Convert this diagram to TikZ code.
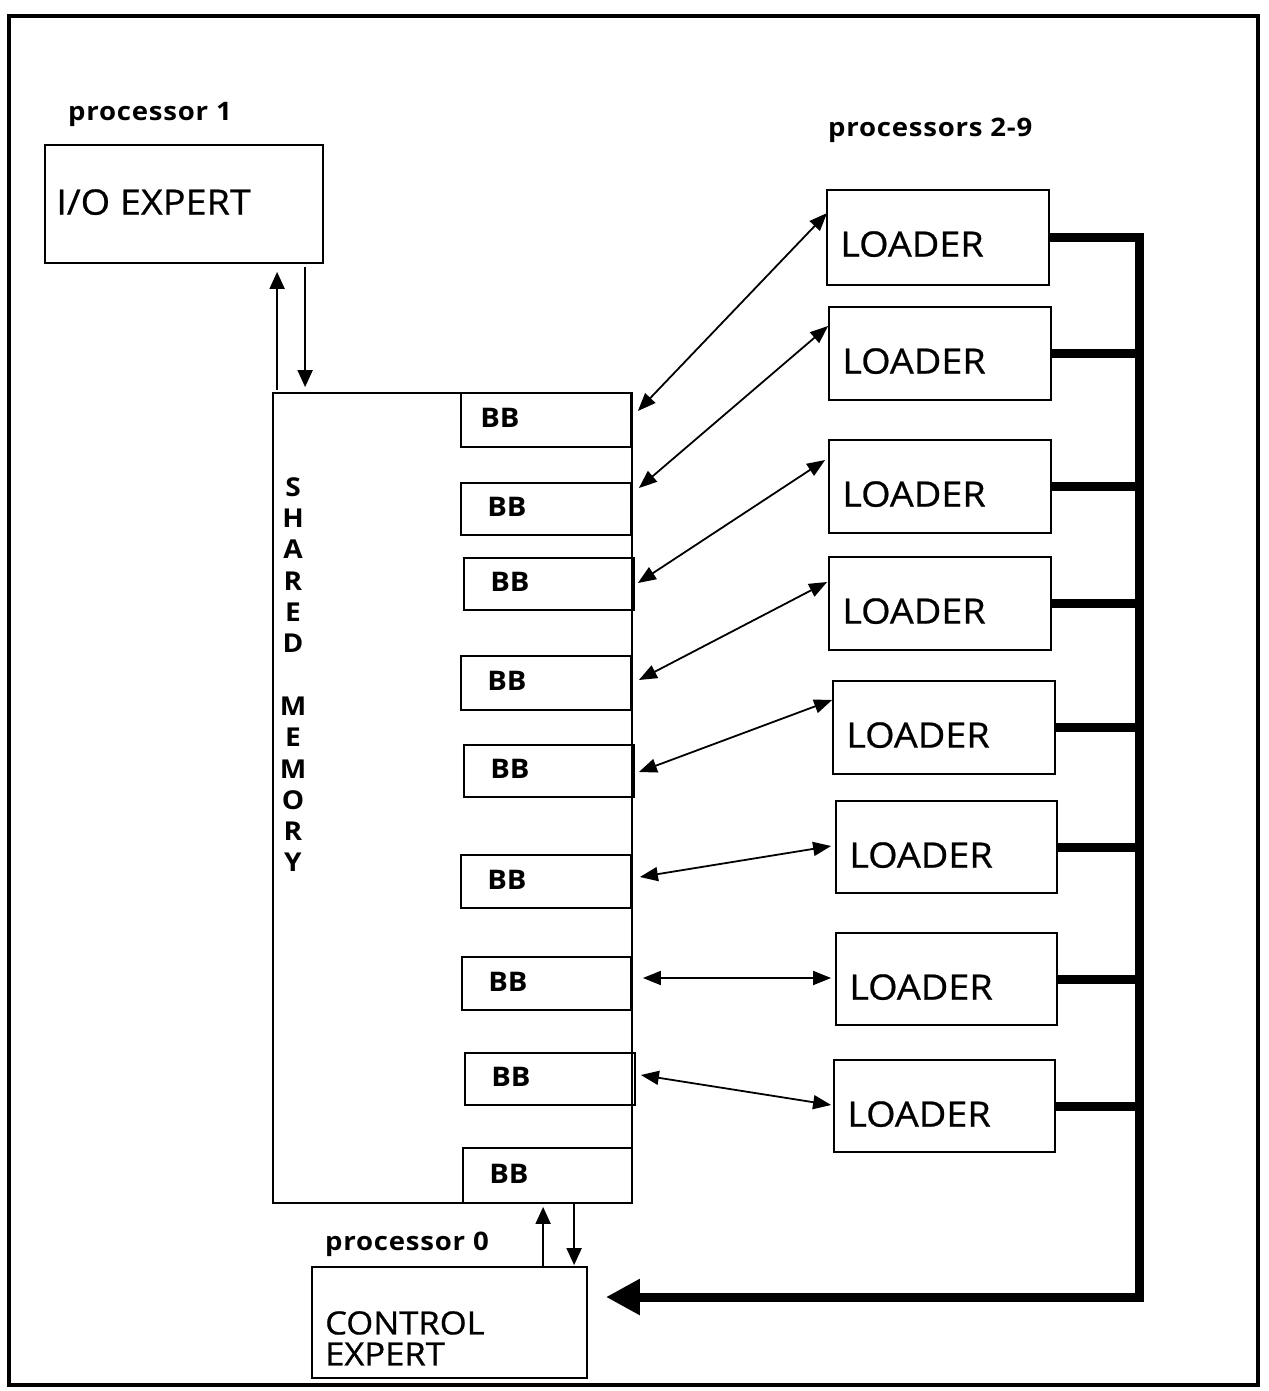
\documentclass[tikz,border=0pt]{standalone}
\usepackage{fontspec}
\setmainfont{Open Sans}[FakeStretch=1.08]
\newfontfamily\heavysans{Open Sans}[FakeStretch=1.08,FakeBold=0.7]
\newfontfamily\labsans{Open Sans}[FakeStretch=1.08,LetterSpace=3]
\usetikzlibrary{arrows.meta,calc}
\newcommand\mkbox[5]{\node[box,minimum width=#4pt,minimum height=#5pt] (#1) at (#2,#3) {};}
\begin{document}
\begin{tikzpicture}[x=1pt,y=-1pt,
  box/.style={draw,line width=1.8pt,inner sep=0pt,rectangle},
  lbl/.style={inner sep=0pt,anchor=west,font=\heavysans\fontsize{35}{40}\selectfont},
  small/.style={inner sep=0pt,anchor=base west,font=\labsans\fontsize{25.5}{30}\selectfont\bfseries},
  bbtxt/.style={inner sep=0pt,anchor=west,font=\fontsize{27}{30}\selectfont\bfseries},
  darr/.style={line width=1.8pt,{Triangle[length=18pt,width=14pt]}-{Triangle[length=18pt,width=14pt]}},
  arr/.style={line width=1.8pt,-{Triangle[length=17pt,width=15pt]}},
  bus/.style={line width=9pt},
]
\useasboundingbox (0,0) rectangle (1268,1391);
% frame
\draw[line width=4pt] (9,16) rectangle (1258,1385);

% main boxes
\mkbox{io}{184}{204}{278}{118}
\mkbox{shm}{452.5}{798}{359}{810}
\mkbox{ctrl}{449.5}{1322.5}{275}{111}

% BB boxes
\mkbox{bb1}{546}{420}{170}{54}
\mkbox{bb2}{546}{509}{170}{52}
\mkbox{bb3}{549}{584}{170}{52}
\mkbox{bb4}{546}{683}{170}{54}
\mkbox{bb5}{549}{771}{170}{52}
\mkbox{bb6}{546}{881.5}{170}{53}
\mkbox{bb7}{546.5}{983.5}{169}{53}
\mkbox{bb8}{550}{1079}{170}{52}
\mkbox{bb9}{547.5}{1175.5}{169}{55}

% loader boxes
\mkbox{L1}{938}{237.5}{222}{95}
\mkbox{L2}{940}{353.5}{222}{93}
\mkbox{L3}{940}{486.5}{222}{93}
\mkbox{L4}{940}{603.5}{222}{93}
\mkbox{L5}{944}{727.5}{222}{93}
\mkbox{L6}{946.5}{847}{221}{92}
\mkbox{L7}{946.5}{979}{221}{92}
\mkbox{L8}{944.5}{1106}{221}{92}

% texts
\node[small] (p1) at (68,121) {processor 1};
\node[small] (p29) at (828,137) {processors 2-9};
\node[small] (p0) at (325,1250) {processor 0};
\node[lbl] (iot) at ($(io.north west)+(12,58)$) {I/O EXPERT};
\node[inner sep=0pt,anchor=north west,align=left,font=\heavysans\fontsize{32}{31}\selectfont] (ct) at (325,1311) {CONTROL\\EXPERT};
\foreach \i in {1,...,8}{
  \node[lbl] (L\i t) at ($(L\i.north west)+(14,55)$) {LOADER};
}
\node[bbtxt] (b1t) at ($(bb1.west)+(20,-2)$) {BB};
\foreach \i in {2,...,9}{
  \node[bbtxt] (b\i t) at ($(bb\i.west)+(27,-2)$) {BB};
}
\node[inner sep=0pt,anchor=north,align=center,font=\fontsize{26}{31.33}\selectfont\bfseries] (smt) at (293,477)
  {S\\H\\A\\R\\E\\D\\[31.33pt]M\\E\\M\\O\\R\\Y};

% I/O arrows
\draw[arr] ($(shm.north west)+(5,-2)$) -- ($(io.south west)+(233,8)$);
\draw[arr] ($(io.south west)+(261,3)$) -- ($(shm.north west)+(33,-5)$);
% control arrows
\draw[arr] ($(ctrl.north west)+(232,0)$) -- ($(bb9.south west)+(81,3)$);
\draw[arr] ($(bb9.south west)+(112,0)$) -- ($(ctrl.north west)+(263,-1)$);

% BB <-> LOADER
\draw[darr] ($(bb1.east)+(6,-9)$) -- ($(L1.west)+(1,-24.5)$);
\draw[darr] ($(bb2.east)+(7,-21)$) -- ($(L2.west)+(0,-27.5)$);
\draw[darr] ($(bb3.east)+(3,-1)$) -- ($(L3.west)+(-3,-26.5)$);
\draw[darr] ($(bb4.east)+(7,-3)$) -- ($(L4.west)+(-1,-21.5)$);
\draw[darr] ($(bb5.east)+(4,1)$) -- ($(L5.west)+(0,-27.5)$);
\draw[darr] ($(bb6.east)+(8,-4.5)$) -- ($(L6.west)+(-4,-1)$);
\draw[darr] ($(bb7.east)+(11,-5.5)$) -- ($(L7.west)+(-4,-1)$);
\draw[darr] ($(bb8.east)+(5,-4)$) -- ($(L8.west)+(-2,-1)$);

% bus
\coordinate (busbot) at (1139,1297);
\draw[bus,line join=miter,-{Triangle[length=34pt,width=34pt]}] (L1.east) -- (L1.east -| busbot) -- (busbot) -- ($(ctrl.east)+(18,-25.5)$);
\foreach \i in {2,...,8}{
  \draw[bus] (L\i.east) -- (L\i.east -| busbot);
}
\end{tikzpicture}
\end{document}
